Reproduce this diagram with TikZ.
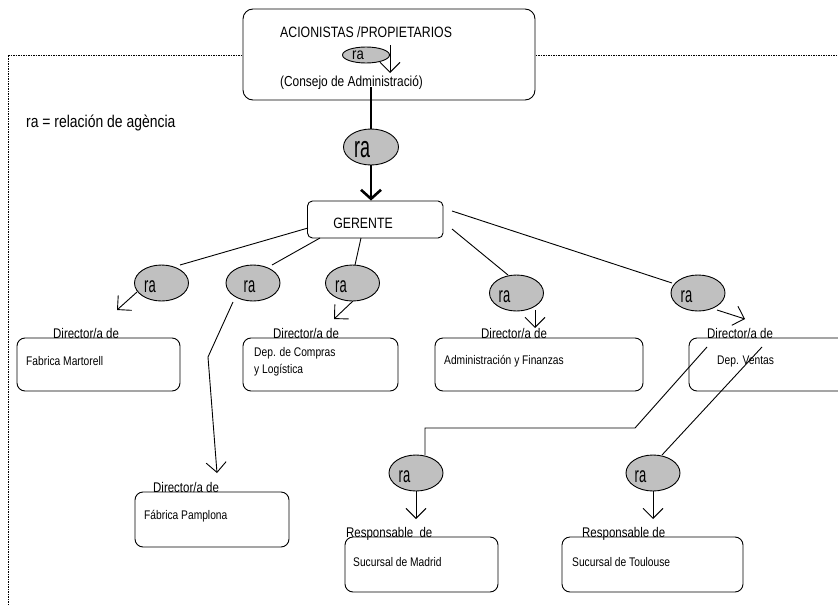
\documentclass[tikz,border=0pt]{standalone}
\usepackage{graphicx}
\usepackage{fontspec}
\setmainfont[FakeStretch=0.82]{Liberation Sans}
\usetikzlibrary{arrows.meta,shapes.geometric,fit}
\definecolor{ragray}{RGB}{192,192,192}
\newcommand\rasmall{\scalebox{0.72}[1]{\fontsize{22}{22}\selectfont ra}}
\newcommand\rabig{\scalebox{0.73}[1]{\fontsize{30}{30}\selectfont ra}}
\newcommand\ratop{{\fontsize{16}{16}\selectfont ra}}
\begin{document}
\begin{tikzpicture}[x=1pt,y=-1pt,
  box/.style={draw, rounded corners=8pt, line width=0.9pt, fill=white, inner sep=0pt},
  raell/.style={ellipse, draw, fill=ragray, line width=0.9pt, inner sep=0pt, minimum width=54pt, minimum height=36pt},
  ratxt/.style={anchor=base, inner sep=0pt},
  conn/.style={line width=0.9pt},
  arr/.style={conn, -{Straight Barb[length=10pt,width=20pt]}},
  thickarr/.style={line width=2.6pt, -{Straight Barb[length=9pt,width=20pt]}},
  lbl/.style={anchor=base west, inner sep=0pt, font=\fontsize{14}{16}\selectfont},
  btxt/.style={anchor=west, inner sep=0pt, font=\fontsize{12.5}{17}\selectfont, align=left},
  frame/.style={line width=0.6pt, dash pattern=on 1.5pt off 1pt}
]
\useasboundingbox (0,0) rectangle (838,605);
\clip (0,0) rectangle (838,605);

% dashed frame
\draw[frame] (8,605) -- (8,55) -- (838,55);

% boxes
\node[box, rounded corners=10pt, fit={(243,9) (535,100)}] (own) {};
\node[box, rounded corners=5pt, fit={(307.5,201) (443,238)}] (ger) {};
\node[box, fit={(17,338) (180,391)}] (mart) {};
\node[box, fit={(243,338) (398,391)}] (comp) {};
\node[box, fit={(435,338) (643,391)}] (ayf) {};
\node[box, fit={(689,338) (880,391)}] (vent) {};
\node[box, fit={(135,492) (289,547)}] (pamp) {};
\node[box, fit={(345,537) (498,592)}] (madr) {};
\node[box, fit={(562,537) (743,592)}] (toul) {};

% texts in top box
\node[anchor=west, inner sep=0pt, font=\fontsize{15}{17}\selectfont] (owntxt) at (280,32) {ACIONISTAS /PROPIETARIOS};
\node[anchor=west, inner sep=0pt, font=\fontsize{14.5}{17}\selectfont] (conse) at (280,83) {(Consejo de Administració)};
\node[anchor=west, inner sep=0pt, font=\fontsize{17}{19}\selectfont] (legend) at (26,123) {ra = relación de agència};
\node[inner sep=0pt, font=\fontsize{15}{17}\selectfont] (gertxt) at (363,223) {GERENTE};

% coordinates
\coordinate (owna) at (390,45);
\coordinate (ownb) at (390,73);
\coordinate (thk) at (371,87);
\coordinate (g1) at (308,228);
\coordinate (g2) at (320,238);
\coordinate (g3) at (361,238);
\coordinate (g4) at (452,229);
\coordinate (g5) at (452,211);
\coordinate (e1in) at (180,265);
\coordinate (e2in) at (272,265);
\coordinate (e3in) at (355,265);
\coordinate (e4in) at (508,275);
\coordinate (e5in) at (672,283);
\coordinate (e1out) at (137,292);
\coordinate (e1tip) at (117,310);
\coordinate (e2out) at (233,302);
\coordinate (e2bend) at (208,357);
\coordinate (e2tip) at (217,473);
\coordinate (e3out) at (353,301);
\coordinate (e3tip) at (334,319);
\coordinate (e4out) at (535,310);
\coordinate (e4tip) at (535,328);
\coordinate (e5out) at (717,310);
\coordinate (e5tip) at (745,319);
\coordinate (v1) at (707,347);
\coordinate (v1b) at (635,428);
\coordinate (v1c) at (425,428);
\coordinate (madin) at (425,455);
\coordinate (v2) at (762,347);
\coordinate (touin) at (662,455);
\coordinate (madtip) at (416,519);
\coordinate (toutip) at (653,519);

% connectors
\draw[arr] (owna) -- (ownb);
\draw[conn] (g1) -- (e1in);
\draw[conn] (g2) -- (e2in);
\draw[conn] (g3) -- (e3in);
\draw[conn] (g4) -- (e4in);
\draw[conn] (g5) -- (e5in);
\draw[arr] (e1out) -- (e1tip);
\draw[arr] (e2out) -- (e2bend) -- (e2tip);
\draw[arr] (e3out) -- (e3tip);
\draw[arr] (e4out) -- (e4tip);
\draw[arr] (e5out) -- (e5tip);
\draw[conn] (v1) -- (v1b) -- (v1c) -- (madin);
\draw[conn] (v2) -- (touin);

% ellipses
\node[raell, minimum width=47pt, minimum height=16pt] (eown) at (366,55) {};
\node[raell, minimum width=55pt] (big) at (371,147) {};
\node[raell] (e1) at (161.5,283) {};
\node[raell] (e2) at (253,283) {};
\node[raell] (e3) at (352.5,283) {};
\node[raell] (e4) at (516.5,293) {};
\node[raell] (e5) at (698,293) {};
\node[raell] (emad) at (416,473) {};
\node[raell] (etou) at (653,473) {};

\draw[line width=2.6pt] (thk) -- (big.north);
\draw[thickarr] (big.south) -- (big.south |- ger.north);
\draw[arr] (emad.south) -- (madtip);
\draw[arr] (etou.south) -- (toutip);

% ra texts
\node[ratxt] (eownt) at (358,59.5) {\ratop};
\node[ratxt] (bigt) at (362,157) {\rabig};
\node[ratxt] (e1t) at (150,292) {\rasmall};
\node[ratxt] (e2t) at (249.5,292) {\rasmall};
\node[ratxt] (e3t) at (341,292) {\rasmall};
\node[ratxt] (e4t) at (504.5,302) {\rasmall};
\node[ratxt] (e5t) at (686.5,302) {\rasmall};
\node[ratxt] (emadt) at (404.5,482.5) {\rasmall};
\node[ratxt] (etout) at (640.5,482.5) {\rasmall};

% labels above boxes
\node[lbl] (l1) at (53,338) {Director/a de};
\node[lbl] (l2) at (273,338) {Director/a de};
\node[lbl] (l3) at (481,338) {Director/a de};
\node[lbl] (l4) at (707,338) {Director/a de};
\node[lbl] (l5) at (153,492) {Director/a de};
\node[lbl] (l6) at (346,537) {Responsable\ \ de};
\node[lbl] (l7) at (582,537) {Responsable de};

% box texts
\node[btxt] (t1) at (26,361) {Fabrica Martorell};
\node[btxt] (t2) at (254,361.5) {Dep. de Compras\\y Logística};
\node[btxt] (t3) at (444,361) {Administración y Finanzas};
\node[btxt] (t4) at (717,361) {Dep. Ventas};
\node[btxt] (t5) at (144,516) {Fábrica Pamplona};
\node[btxt] (t6) at (353,562) {Sucursal de Madrid};
\node[btxt] (t7) at (572,562) {Sucursal de Toulouse};
\end{tikzpicture}
\end{document}
